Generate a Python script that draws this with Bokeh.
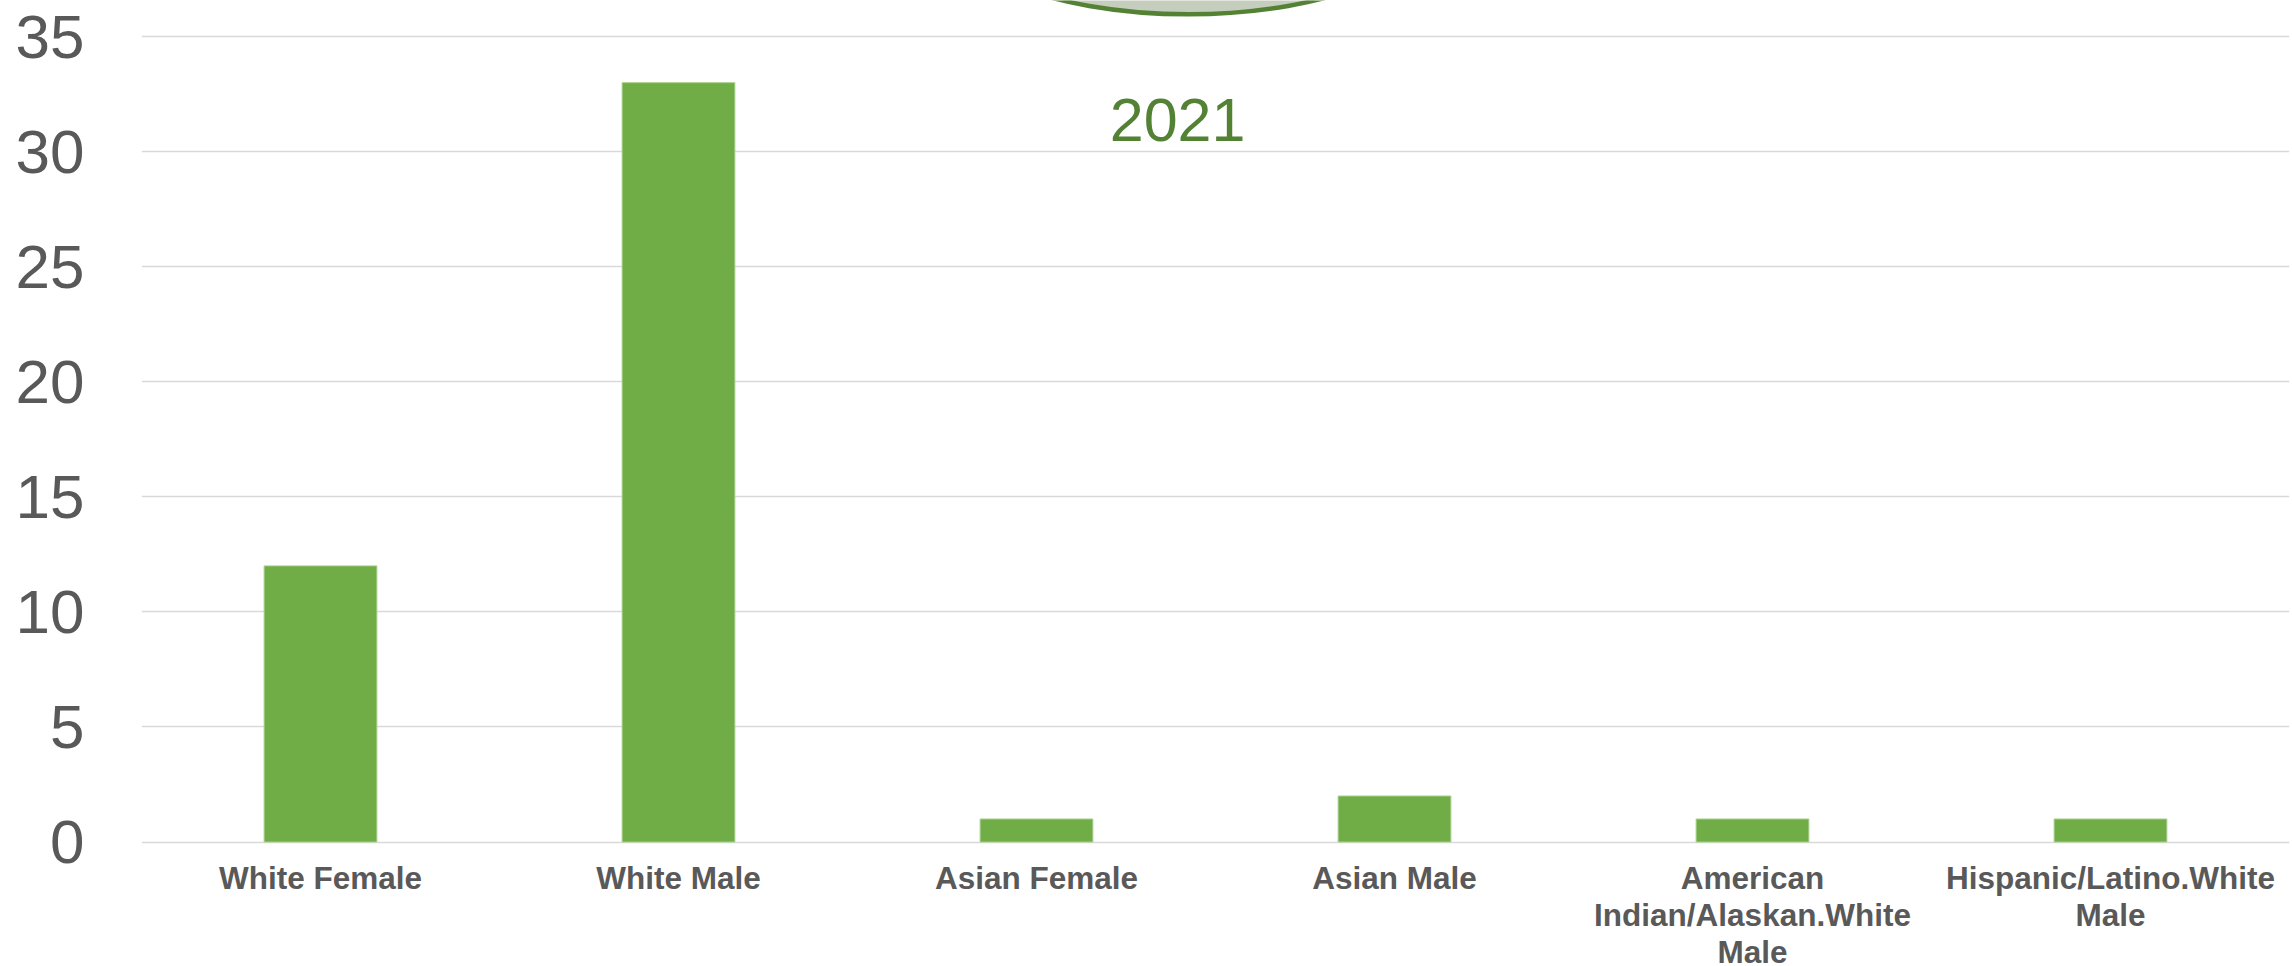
from bokeh.plotting import figure
from bokeh.models import Range1d, FixedTicker, ColumnDataSource, Label
from bokeh.core.properties import value
from bokeh.embed import file_html
from bokeh.resources import INLINE

# ---- data ----
categories = ["White Female", "White Male", "Asian Female", "Asian Male",
              "American Indian/Alaskan.White Male", "Hispanic/Latino.White Male"]
category_labels = ["White Female", "White Male", "Asian Female", "Asian Male",
                   "American\nIndian/Alaskan.White\nMale", "Hispanic/Latino.White\nMale"]
counts = [12, 33, 1, 2, 1, 1]
y_ticks = [0, 5, 10, 15, 20, 25, 30, 35]
year_text = "2021"

FONT = "Liberation Sans"
GREY = "#595959"
BAR = "#70AD47"
DARK_GREEN = "#548235"

p = figure(x_range=categories, y_range=Range1d(-5.41, 36.57),
           width=2292, height=966, output_backend="svg", toolbar_location=None,
           min_border_left=141, min_border_right=3, min_border_top=0, min_border_bottom=0)
p.outline_line_color = None
p.background_fill_color = "white"
p.border_fill_color = "white"

# grid
p.xgrid.grid_line_color = None
p.ygrid.ticker = FixedTicker(ticks=y_ticks)
p.ygrid.grid_line_color = "#d9d9d9"
p.ygrid.grid_line_width = 1.5

# y axis
p.yaxis.ticker = FixedTicker(ticks=y_ticks)
p.yaxis.axis_line_color = None
p.yaxis.major_tick_line_color = None
p.yaxis.minor_tick_line_color = None
p.yaxis.major_label_text_font = FONT
p.yaxis.major_label_text_font_size = "62px"
p.yaxis.major_label_text_color = GREY
p.yaxis.major_label_standoff = 51

# x axis hidden; category labels drawn as text at the categories
p.xaxis.visible = False

src = ColumnDataSource(dict(cat=categories, val=counts, lab=category_labels,
                            zero=[0] * len(categories)))
p.vbar(x="cat", top="val", width=0.315, source=src,
       fill_color=BAR, line_color="#a9d18e", line_width=1)

p.text(x="cat", y="zero", text="lab", source=src,
       text_font=value(FONT), text_font_style="bold", text_font_size="31.5px",
       text_color=GREY, text_align="center", text_baseline="top",
       text_line_height=1.03, y_offset=18)

# decorative header shape (cut off at top) and year label
ELL_X, ELL_Y = 2.925, 41.18
p.ellipse(x=[ELL_X], y=[ELL_Y], width=540, height=240,
          width_units="screen", height_units="screen",
          fill_color="#c5cdbd", line_color=DARK_GREEN, line_width=4.5)

p.add_layout(Label(x=2.894, y=31.36, text=year_text, text_font=FONT,
                   text_font_size="61px", text_color=DARK_GREEN,
                   text_align="center", text_baseline="alphabetic"))

open("out.html", "w").write(file_html(p, INLINE))
